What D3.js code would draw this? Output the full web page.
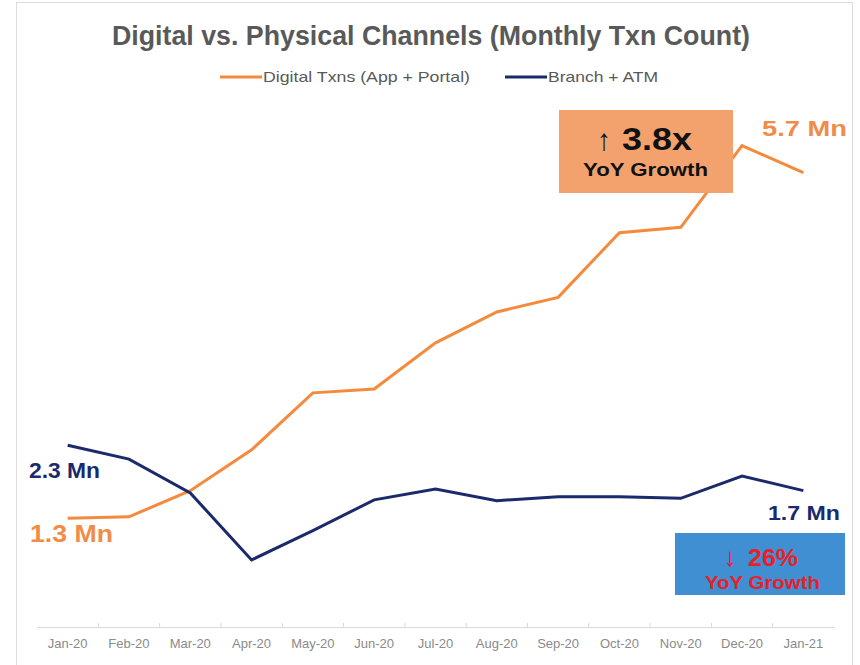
<!DOCTYPE html>
<html>
<head>
<meta charset="utf-8">
<script src="https://cdn.jsdelivr.net/npm/d3@7"></script>
<style>
  body { margin: 0; background: #fff; }
  .line { fill: none; stroke-width: 3; stroke-linejoin: miter; }
  .tick text { font-family: "Liberation Sans", Arial, sans-serif; }
</style>
</head>
<body>
<div id="charts"></div>
<script>
// months on x axis
var months = ["Jan-20", "Feb-20", "Mar-20", "Apr-20", "May-20", "Jun-20", "Jul-20",
              "Aug-20", "Sep-20", "Oct-20", "Nov-20", "Dec-20", "Jan-21"];

// monthly txn count, millions
var digitalTxns = [1.32, 1.34, 1.68, 2.21, 2.95, 3.00, 3.60, 4.00, 4.19, 5.03, 5.10, 6.16, 5.81];
var branchAtm   = [2.27, 2.09, 1.65, 0.78, 1.16, 1.56, 1.70, 1.55, 1.60, 1.60, 1.58, 1.87, 1.68];

var seriesNames = ["Digital Txns (App + Portal)", "Branch + ATM"];
var seriesColors = ["#f58a3c", "#1b2a6b"];

var width = 860, height = 665;

var svg = d3.select("#charts")
  .append("svg")
    .attr("width", width)
    .attr("height", height)
    .style("font-family", "'Liberation Sans', Arial, sans-serif");

// light frame round the chart
svg.append("rect")
  .attr("x", 16.5).attr("y", 2.5)
  .attr("width", 836).attr("height", 680)
  .attr("fill", "none")
  .attr("stroke", "#dcdcdc");

// Set the ranges
var x = d3.scaleBand().domain(months).range([37, 834]);
var y = d3.scaleLinear().domain([0, 6]).range([620, 158]);

var line = d3.line()
  .x(function(d, i) { return x(months[i]) + x.bandwidth() / 2; })
  .y(function(d) { return y(d); });

// title
svg.append("text")
  .attr("x", 112).attr("y", 45)
  .attr("textLength", 638)
  .attr("lengthAdjust", "spacingAndGlyphs")
  .attr("font-size", 27)
  .attr("font-weight", "bold")
  .attr("fill", "#595959")
  .text("Digital vs. Physical Channels (Monthly Txn Count)");

// legend
var legendX = [220, 505], legendTextW = [207, 110];
seriesNames.forEach(function(name, i) {
  svg.append("line")
    .attr("x1", legendX[i]).attr("x2", legendX[i] + 42)
    .attr("y1", 77).attr("y2", 77)
    .attr("stroke", seriesColors[i])
    .attr("stroke-width", 3);
  svg.append("text")
    .attr("x", legendX[i] + 43).attr("y", 82)
    .attr("textLength", legendTextW[i])
    .attr("lengthAdjust", "spacingAndGlyphs")
    .attr("font-size", 15)
    .attr("fill", "#595959")
    .text(name);
});

// x axis
var xAxis = svg.append("g")
  .attr("transform", "translate(0,627)")
  .call(d3.axisBottom(x).tickSize(0).tickPadding(12));
xAxis.select(".domain").attr("stroke", "#d9d9d9");
xAxis.selectAll(".tick text")
  .attr("font-size", 13)
  .attr("fill", "#8a8a8a");
// category separators
svg.append("g")
  .selectAll("line")
  .data(months.slice(1))
  .enter()
  .append("line")
    .attr("x1", function(d) { return x(d); })
    .attr("x2", function(d) { return x(d); })
    .attr("y1", 623).attr("y2", 627)
    .attr("stroke", "#d9d9d9");

// lines
[digitalTxns, branchAtm].forEach(function(vals, i) {
  svg.append("path")
    .attr("class", "line")
    .attr("stroke", seriesColors[i])
    .attr("d", line(vals));
});

// plain text helper
function label(txt, xp, yp, size, color, w, weight) {
  var t = svg.append("text")
    .attr("x", xp).attr("y", yp)
    .attr("font-size", size)
    .attr("font-weight", weight || "bold")
    .attr("fill", color)
    .text(txt);
  if (w) t.attr("textLength", w).attr("lengthAdjust", "spacingAndGlyphs");
  return t;
}
// end labels
label("2.3 Mn", 29, 478, 22, "#1b2a6b", 71);
label("1.3 Mn", 30, 542, 24, "#f08c48", 83);
label("5.7 Mn", 762, 136, 22, "#f08c48", 85);
label("1.7 Mn", 768, 520, 21, "#1b2a6b", 72);

// growth boxes
svg.append("rect")
  .attr("x", 559).attr("y", 110)
  .attr("width", 174).attr("height", 83)
  .attr("fill", "#f4a26d");
label("\u2191", 597, 150, 30, "#111", 14, "normal");
label("3.8x", 622, 150, 31, "#111", 70);
label("YoY Growth", 583, 176, 19, "#111", 125);

svg.append("rect")
  .attr("x", 675).attr("y", 533)
  .attr("width", 170).attr("height", 62)
  .attr("fill", "#3f8fd2");
label("\u2193", 724, 566, 26, "#e8202a", 12, "normal");
label("26%", 748, 566, 23, "#e8202a", 50);
label("YoY Growth", 705, 589, 18, "#e8202a", 115);
</script>
</body>
</html>
